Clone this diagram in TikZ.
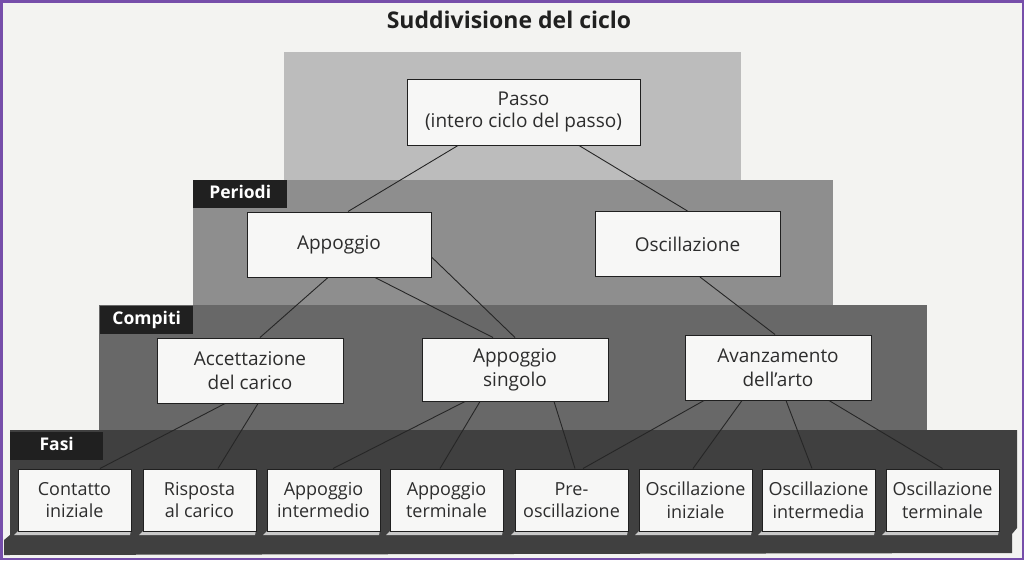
\documentclass[tikz,border=0pt]{standalone}
\usepackage{fontspec}
\setmainfont{Open Sans}
\usetikzlibrary{calc}
\definecolor{bgc}{RGB}{243,243,241}
\definecolor{tierA}{RGB}{188,188,188}
\definecolor{tierB}{RGB}{142,142,142}
\definecolor{tierC}{RGB}{104,104,104}
\definecolor{tierD}{RGB}{64,64,64}
\definecolor{labc}{RGB}{32,32,32}
\definecolor{boxc}{RGB}{247,247,246}
\definecolor{footc}{RGB}{200,200,200}
\definecolor{txtc}{RGB}{45,45,45}
\definecolor{framec}{RGB}{118,78,170}
\tikzset{
  lab/.style={fill=labc, text=white, font=\bfseries\fontsize{17.5}{20}\selectfont, anchor=north west, inner sep=0pt, minimum height=28pt, text height=12.5pt, text depth=3pt, align=center},
  topbox/.style={draw=labc, line width=1pt, fill=boxc, text=txtc, align=center, font=\fontsize{19}{24}\selectfont, minimum width=184pt, minimum height=65pt, inner sep=2pt},
  fasebox/.style={draw=labc, line width=1pt, fill=boxc, text=txtc, align=center, font=\fontsize{18}{22.5}\selectfont, minimum width=113pt, minimum height=62pt, inner sep=1pt},
  conn/.style={draw=black!85, line width=0.9pt},
  foot/.style={fill=footc, draw=none}
}
\begin{document}
\begin{tikzpicture}[x=1pt,y=-1pt]
\useasboundingbox (0,0) rectangle (1024,560);
\fill[bgc] (0,0) rectangle (1024,560);
% tiers
\fill[tierA] (284,52) rectangle (741,181);
\fill[tierB] (193,180) rectangle (833,306);
\fill[tierC] (99,305) rectangle (927,431);
\fill[tierD] (10,430) -- (1017,430) -- (1017,528) -- (1012,534) -- (1012,553) -- (4,555) -- (4,540) -- (10,535) -- cycle;
% title
\node[font=\bfseries\fontsize{23}{26}\selectfont, text=labc] (title) at (509,20) {Suddivisione del ciclo};
% labels
\node[lab, minimum width=94pt] (lperiodi) at (193,180) {Periodi};
\node[lab, minimum width=93pt] (lcompiti) at (100,306) {Compiti};
\node[lab, minimum width=93pt] (lfasi) at (10,432) {Fasi};
% foot shadows under bottom boxes
\foreach \l in {18,143,267,390,515,639,762,886}{
  \fill[foot] (\l-4,535) -- (\l+1,530) -- (\l+113,530) -- (\l+112,535) -- cycle;
}
% nodes
\node[topbox, minimum width=233pt, minimum height=66pt] (passo) at (523.5,112) {Passo\\[-2pt](intero ciclo del passo)};
\node[topbox] (app) at (339,244.5) {Appoggio};
\node[topbox, minimum width=185pt] (osc) at (687.5,244) {Oscillazione};
\node[topbox, minimum width=186pt] (acc) at (250,370.5) {Accettazione\\del carico};
\node[topbox, minimum width=186pt, minimum height=63pt] (sing) at (515,369.5) {Appoggio\\singolo};
\node[topbox, minimum width=186pt] (avz) at (778,367.5) {Avanzamento\\dell’arto};
\node[fasebox] (f1) at (74.5,500) {Contatto\\iniziale};
\node[fasebox] (f2) at (199.5,500) {Risposta\\al carico};
\node[fasebox] (f3) at (323.5,500) {Appoggio\\intermedio};
\node[fasebox] (f4) at (446.5,500) {Appoggio\\terminale};
\node[fasebox] (f5) at (571.5,500) {Pre-\\oscillazione};
\node[fasebox] (f6) at (695.5,500) {Oscillazione\\iniziale};
\node[fasebox] (f7) at (818.5,500) {Oscillazione\\intermedia};
\node[fasebox] (f8) at (942.5,500) {Oscillazione\\terminale};
% connectors
\draw[conn] ([xshift=-65.5pt]passo.south) -- ([xshift=9pt]app.north);
\draw[conn] ([xshift=55.5pt]passo.south) -- (osc.north);
\draw[conn] ([xshift=-11pt]app.south) -- ([xshift=10pt]acc.north);
\draw[conn] ([xshift=36pt]app.south) -- ([xshift=-22pt]sing.north);
\draw[conn] ([yshift=-12.5pt]app.east) -- (sing.north);
\draw[conn] ([xshift=12.5pt]osc.south) -- ([xshift=-3pt]avz.north);
\draw[conn] ([xshift=-25pt]acc.south) -- ([xshift=25.5pt]f1.north);
\draw[conn] ([xshift=8pt]acc.south) -- ([xshift=18.5pt]f2.north);
\draw[conn] ([xshift=-50pt]sing.south) -- ([xshift=9.5pt]f3.north);
\draw[conn] ([xshift=-35pt]sing.south) -- ([xshift=-6.5pt]f4.north);
\draw[conn] ([xshift=39pt]sing.south) -- ([xshift=3.5pt]f5.north);
\draw[conn] ([xshift=-74pt]avz.south) -- ([xshift=11.5pt]f5.north);
\draw[conn] ([xshift=-36pt]avz.south) -- ([xshift=-2.5pt]f6.north);
\draw[conn] ([xshift=8pt]avz.south) -- ([xshift=-6.5pt]f7.north);
\draw[conn] ([xshift=51pt]avz.south) -- (f8.north);
% frame
\draw[framec, line width=2.5pt] (1.25,1.25) rectangle (1022.75,558.75);
\end{tikzpicture}
\end{document}
